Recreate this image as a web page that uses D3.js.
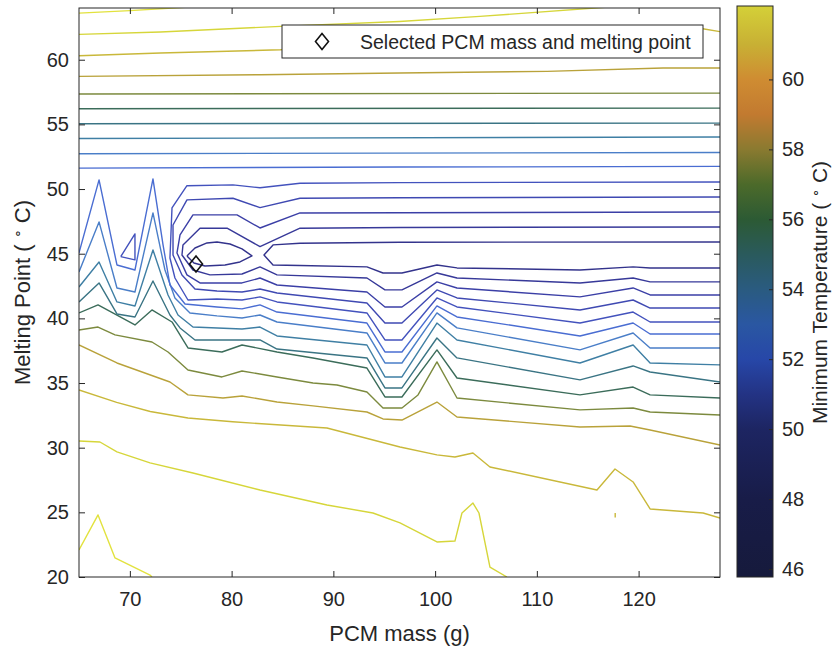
<!DOCTYPE html>
<html>
<head>
<meta charset="utf-8">
<script src="https://cdn.jsdelivr.net/npm/d3@7"></script>
<style>
  body { margin: 0; background: #fff; }
  svg text { font-family: "Liberation Sans", Arial, Helvetica, sans-serif; fill: #262626; }
</style>
</head>
<body>
<svg id="chart" width="838" height="652"></svg>
<script>
// axes
const massDomain = [65, 128];
const meltDomain = [20, 64];
const massTicks  = [70, 80, 90, 100, 110, 120];
const meltTicks  = [20, 25, 30, 35, 40, 45, 50, 55, 60];
const tempDomain = [45.77, 62.1];
const tempTicks  = [46, 48, 50, 52, 54, 56, 58, 60];
const selected   = [76.5, 44.2];   // selected PCM mass, melting point

// contour lines, [PCM mass (g), melting point (C)]
const c61a = [[65,63.6],[70,63.8],[77.5,64.15]];
const c61b = [[65,22.09],[66.87,24.8],[68.54,21.47],[71.98,20.15],[72.17,20]];
const c60a = [[65,61.96],[73,62.14],[84.8,62.58],[96.5,62.96],[104.4,63.35],[117.5,64.1]];
const c60b = [[65,30.52],[67.06,30.44],[68.73,29.67],[71.98,28.82],[76.2,28.04],[82.79,26.73],[89.37,25.57],
              [93.89,24.95],[96.55,24.18],[100.18,22.71],[101.95,22.78],[102.64,24.95],[103.72,25.72],
              [104.31,24.95],[105.39,20.77],[107.06,20]];
const c59a = [[65,60.31],[73,60.52],[84.8,60.77],[96.5,61.24],[112.3,61.86],[124,62.4],[126.3,62.4],[128,62.17]];
const c59b = [[65,34.46],[68.7,33.5],[72,32.8],[75.71,32.3],[80.1,32.0],[89.37,31.52],[96.55,30.05],[100.18,29.44],
              [101.95,29.28],[103.72,29.59],[105.39,28.51],[115.91,26.73],[117.68,28.35],[119.46,27.35],
              [121.13,25.26],[126.34,24.95],[128,24.56]];
const c59c = [[117.7,24.6],[117.7,24.95]];
const c58a = [[65,58.71],[82.8,58.84],[96.5,58.97],[111,59.1],[122.4,59.36],[128,59.36]];
const c58b = [[65,37.94],[68.73,36.55],[73.94,35.08],[75.71,34.08],[79.15,33.84],[81.02,34.0],[84.46,33.53],
              [88.0,33.23],[93.3,32.76],[94.88,32.22],[96.74,32.14],[100.18,33.53],[102.15,32.37],
              [114.24,31.6],[119.16,31.68],[121.13,31.37],[128,30.21]];
const c57a = [[65,57.35],[128,57.42]];
const c57b = [[65,39.1],[66.87,39.33],[68.54,38.72],[72.17,38.17],[73.75,37.4],[75.71,36.01],[79.05,35.47],
              [81.02,35.93],[84.46,35.47],[88.0,35.0],[90.36,34.85],[93.3,34.31],[94.88,33.07],[96.74,33.07],
              [98.32,34.08],[100.18,36.63],[102.15,33.84],[114.24,32.92],[119.46,33.07],[121.13,32.76],[128,32.53]];
const c56a = [[65,56.21],[128,56.26]];
const c56b = [[65,40.42],[66.87,41.04],[70.5,39.49],[72.17,40.65],[74.14,39.72],[75.71,37.71],[79.05,37.4],
              [81.02,37.94],[84.46,37.4],[88.0,36.94],[93.3,36.16],[95.07,33.92],[96.74,33.92],[100.18,37.56],
              [102.15,35.39],[114.24,34.08],[119.46,34.69],[121.13,34.08],[128,33.84]];
const c55a = [[65,55.05],[128,55.1]];
const c55b = [[65,41.27],[66.97,42.74],[68.73,40.34],[70.5,40.11],[72.27,42.89],[73.94,40.26],[74.93,39.26],
              [76.4,38.33],[82.79,38.33],[84.46,37.63],[93.3,36.94],[95.07,34.62],[96.74,34.62],[100.18,38.48],
              [102.15,36.94],[114.24,35.24],[119.46,36.32],[121.13,35.85],[128,35.08]];
const c54a = [[65,53.91],[128,54.02]];
const c54b = [[65,42.43],[66.97,44.36],[68.73,41.27],[70.5,40.96],[72.27,45.29],[73.75,41.81],[74.73,40.26],
              [76.2,39.33],[81.02,39.18],[82.79,39.33],[84.46,38.64],[93.3,37.94],[95.07,35.47],[96.74,35.47],
              [100.18,39.64],[102.15,38.33],[114.24,36.55],[119.46,37.94],[121.13,36.55],[128,36.4]];
const c53a = [[65,52.73],[128,52.83]];
const c53b = [[65,43.59],[66.97,47.46],[68.73,42.35],[70.5,42.04],[72.27,48.15],[73.45,43.74],[74.43,41.58],
              [75.91,40.42],[78.56,40.19],[81.02,40.03],[82.79,40.26],[84.46,39.72],[93.3,38.87],[95.07,36.55],
              [96.74,36.55],[100.18,40.42],[102.15,39.26],[114.24,37.56],[119.46,38.87],[121.13,37.71],[128,37.71]];
const c52a = [[65,51.62],[96.5,51.7],[128,51.75]];
const c52b = [[65,45.06],[66.97,50.71],[68.73,44.13],[70.5,43.74],[72.27,50.78],[73.26,45.68],[73.94,42.58],
              [75.42,41.11],[78.56,40.88],[81.02,40.73],[82.79,41.04],[84.46,40.49],[93.3,39.64],[95.07,37.4],
              [96.74,37.4],[100.18,40.96],[102.15,40.11],[114.24,38.64],[119.46,39.64],[121.13,38.79],[128,38.79]];
const c51a = [[128,50.55],[96.55,50.5],[86.72,50.45],[82.79,50.1],[80.13,50.32],[75.61,50.26],[74.14,48.54],
              [73.94,44.67],[74.43,43.12],[75.71,41.42],[78.56,41.5],[81.02,41.42],[82.79,41.66],[84.46,41.27],
              [93.3,40.42],[95.07,38.33],[96.74,38.33],[100.18,41.58],[102.15,40.88],[114.24,39.64],
              [119.46,40.49],[121.13,39.72],[128,39.72]];
const c51b = [[69.1,44.77],[70.5,46.53],[70.5,44.52],[69.1,44.77]];
const c50  = [[128,49.39],[96.55,49.33],[86.72,49.29],[82.79,48.56],[80.13,49.29],[75.61,49.16],[74.24,47.22],
              [74.24,44.9],[75.12,43.36],[76.4,42.27],[78.56,42.12],[81.02,42.04],[82.79,42.27],[84.46,41.96],
              [93.3,41.19],[95.07,39.64],[96.74,39.64],[100.18,42.2],[102.15,41.58],[114.24,40.65],
              [119.46,41.42],[121.13,40.8],[128,40.8]];
const c49  = [[128,48.23],[96.55,48.17],[86.72,48.15],[82.79,46.99],[80.53,48.0],[76.2,48.0],[74.93,46.45],
              [74.63,45.06],[75.61,43.36],[76.89,42.74],[78.56,42.74],[81.02,42.74],[82.79,43.12],[84.46,42.58],
              [93.3,42.04],[95.07,40.88],[96.74,40.88],[100.18,42.82],[102.15,42.35],[114.24,41.66],
              [119.46,42.35],[121.13,41.81],[128,41.81]];
const c48  = [[128,47.07],[96.55,47.03],[86.72,46.97],[82.79,45.55],[79.55,46.97],[76.89,46.97],[75.22,45.68],
              [75.12,44.9],[76.2,43.74],[77.87,43.36],[81.02,43.43],[82.79,43.98],[84.46,43.36],[93.3,43.12],
              [95.07,42.2],[96.74,42.2],[100.18,43.51],[102.15,43.12],[114.24,42.74],[119.46,43.12],
              [121.13,42.82],[128,42.82]];
const c47a = [[128,45.91],[96.55,45.89],[86.72,45.81],[84.07,45.68],[83.18,44.9],[84.07,44.13],[86.72,44.09],
              [93.3,43.98],[94.88,43.51],[96.74,43.51],[100.18,44.13],[102.15,43.9],[114.24,43.74],
              [119.46,43.98],[121.13,43.9],[128,43.9]];
const c47b = [[75.61,44.83],[76.4,45.44],[77.58,45.83],[78.56,45.91],[79.84,45.75],[81.02,45.37],[82.0,44.83],
              [80.82,44.36],[79.35,44.13],[77.38,44.05],[76.3,44.28],[75.61,44.83]];

const contourLines = [
  [61, c61a], [61, c61b], [60, c60a], [60, c60b], [59, c59a], [59, c59b], [59, c59c],
  [58, c58a], [58, c58b], [57, c57a], [57, c57b], [56, c56a], [56, c56b], [55, c55a], [55, c55b],
  [54, c54a], [54, c54b], [53, c53a], [53, c53b], [52, c52a], [52, c52b], [51, c51a], [51, c51b],
  [50, c50], [49, c49], [48, c48], [47, c47a], [47, c47b]
];

// colour maps
const lineLevels = [47, 49, 51, 52, 53, 54, 55, 56, 57, 58, 59, 60, 61];
const lineHues   = ["#33338c", "#3b3fa6", "#4352bd", "#4a6dd2", "#4a7ec8", "#3f7fa4", "#3a7484",
                    "#3b6c5a", "#7c8a3e", "#b9a23a", "#c9b83a", "#d6d63a", "#e2e23e"];
const barLevels  = [45.77, 48, 50, 51, 52, 53, 54, 55, 56, 57, 58, 59, 60, 61, 62.1];
const barHues    = ["#161a3c", "#181c48", "#1d2562", "#233384", "#2747a8", "#2a57a2", "#2a5b80",
                    "#2a5a5c", "#2c5a34", "#4c6a2a", "#8a7a30", "#c27a30", "#cf8c32", "#c8b034", "#d4d038"];

const L = 79, R = 720, T = 8, B = 577;
const ink = "#262626";

const svg = d3.select("#chart");
const x = d3.scaleLinear().domain(massDomain).range([L, R]);
const y = d3.scaleLinear().domain(meltDomain).range([B, T]);
const lineColor = d3.scaleLinear().domain(lineLevels).range(lineHues);
const barColor  = d3.scaleLinear().domain(barLevels).range(barHues);

svg.append("defs").append("clipPath").attr("id", "plot-clip")
  .append("rect").attr("x", L).attr("y", T).attr("width", R - L).attr("height", B - T);

// contours
const line = d3.line().x(d => x(d[0])).y(d => y(d[1]));
svg.append("g").attr("clip-path", "url(#plot-clip)")
  .selectAll("path").data(contourLines).join("path")
  .attr("d", d => line(d[1]))
  .attr("fill", "none")
  .attr("stroke", d => lineColor(d[0]))
  .attr("stroke-width", 1.4)
  .attr("stroke-linejoin", "round");

// selected point
const diamond = "M0,-8L6.5,0L0,8L-6.5,0Z";
svg.append("path").attr("d", diamond)
  .attr("transform", `translate(${x(selected[0])},${y(selected[1])})`)
  .attr("fill", "none").attr("stroke", "#111").attr("stroke-width", 1.6);

// axes, ticks inside like MATLAB
function styleAxis(g) {
  g.select(".domain").remove();
  g.selectAll(".tick line").attr("stroke", ink);
  g.selectAll(".tick text").attr("font-size", 20).attr("fill", ink);
}
svg.append("g").attr("transform", `translate(0,${B})`)
  .call(d3.axisBottom(x).tickValues(massTicks).tickSize(-6).tickPadding(15)).call(styleAxis);
svg.append("g").attr("transform", `translate(0,${T})`)
  .call(d3.axisTop(x).tickValues(massTicks).tickSize(-6).tickFormat("")).call(styleAxis);
svg.append("g").attr("transform", `translate(${L},0)`)
  .call(d3.axisLeft(y).tickValues(meltTicks).tickSize(-6).tickPadding(10)).call(styleAxis);
svg.append("g").attr("transform", `translate(${R},0)`)
  .call(d3.axisRight(y).tickValues(meltTicks).tickSize(-6).tickFormat("")).call(styleAxis);

svg.append("rect").attr("x", L).attr("y", T).attr("width", R - L).attr("height", B - T)
  .attr("fill", "none").attr("stroke", ink).attr("stroke-width", 1);

svg.append("text").attr("x", (L + R) / 2).attr("y", 641).attr("text-anchor", "middle")
  .attr("font-size", 22).text("PCM mass (g)");

const yt = svg.append("text").attr("transform", `translate(30,${(T + B) / 2}) rotate(-90)`)
  .attr("text-anchor", "middle").attr("font-size", 22);
yt.append("tspan").text("Melting Point ( ");
yt.append("tspan").attr("dy", -8).attr("font-size", 14).text("\u2218");
yt.append("tspan").attr("dy", 8).text(" C)");

// legend
const lg = svg.append("g");
lg.append("rect").attr("x", 282).attr("y", 25).attr("width", 421).attr("height", 33)
  .attr("fill", "#fff").attr("stroke", ink).attr("stroke-width", 1);
lg.append("path").attr("d", diamond).attr("transform", "translate(322,41.5)")
  .attr("fill", "none").attr("stroke", "#111").attr("stroke-width", 1.6);
lg.append("text").attr("x", 360).attr("y", 49).attr("font-size", 19.5)
  .text("Selected PCM mass and melting point");

// colour bar
const CB = { x: 737, w: 36, top: 6, bottom: 577 };
const cb = d3.scaleLinear().domain(tempDomain).range([CB.bottom, CB.top]);
const grad = svg.select("defs").append("linearGradient").attr("id", "cbar")
  .attr("x1", 0).attr("y1", 1).attr("x2", 0).attr("y2", 0);
grad.selectAll("stop").data(barLevels).join("stop")
  .attr("offset", d => (d - tempDomain[0]) / (tempDomain[1] - tempDomain[0]))
  .attr("stop-color", d => barColor(d));
svg.append("rect").attr("x", CB.x).attr("y", CB.top).attr("width", CB.w).attr("height", CB.bottom - CB.top)
  .attr("fill", "url(#cbar)").attr("stroke", ink).attr("stroke-width", 1);

svg.append("g").attr("transform", `translate(${CB.x + CB.w},0)`)
  .call(d3.axisRight(cb).tickValues(tempTicks).tickSize(-4).tickPadding(9))
  .call(styleAxis);

const ct = svg.append("text").attr("transform", `translate(827,${(T + B) / 2}) rotate(-90)`)
  .attr("text-anchor", "middle").attr("font-size", 21);
ct.append("tspan").text("Minimum Temperature ( ");
ct.append("tspan").attr("dy", -8).attr("font-size", 13).text("\u2218");
ct.append("tspan").attr("dy", 8).text(" C)");
</script>
</body>
</html>
